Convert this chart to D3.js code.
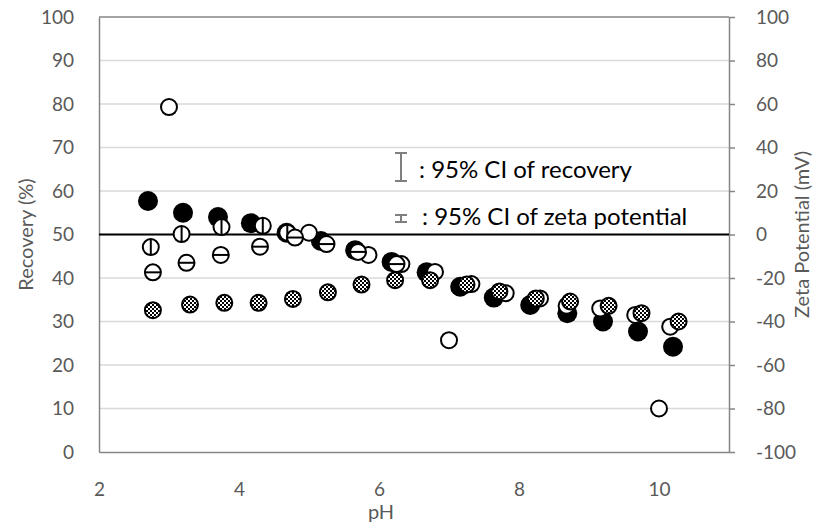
<!DOCTYPE html>
<html>
<head>
<meta charset="utf-8">
<script src="https://cdn.jsdelivr.net/npm/d3@7"></script>
<style>
  body { margin: 0; background: #fff; }
  svg text { font-family: Lato, "Open Sans", sans-serif; }
</style>
</head>
<body>
<div id="chart"></div>
<script>
// recovery (left axis), filled markers
const recPH = [2.70, 3.20, 3.70, 4.17, 4.68, 5.17, 5.66, 6.18, 6.68, 7.16, 7.64, 8.16, 8.69, 9.20, 9.70, 10.20];
const recovery = [57.7, 55.0, 54.0, 52.6, 50.4, 48.5, 46.4, 43.7, 41.3, 38.0, 35.5, 33.8, 31.9, 30.0, 27.7, 24.2];

// zeta potential series (right axis)
const openPH = [3.00, 5.00, 5.85, 6.32, 6.80, 7.00, 7.32, 7.81, 8.30, 8.68, 9.16, 9.66, 10.00, 10.16];
const openZeta = [58.6, 0.8, -9.4, -13.6, -17.2, -48.6, -22.8, -27.0, -29.4, -32.8, -34.0, -37.0, -80.0, -42.4];

const vertPH = [2.74, 3.18, 3.75, 4.34, 4.69];
const vertZeta = [-5.8, 0.2, 3.4, 4.0, 0.8];

const horizPH = [2.77, 3.25, 3.74, 4.30, 4.80, 5.25, 5.70, 6.25];
const horizZeta = [-17.4, -13.0, -9.4, -5.6, -1.4, -4.4, -8.0, -13.6];

const checkPH = [2.77, 3.30, 3.79, 4.28, 4.77, 5.27, 5.75, 6.23, 6.73, 7.25, 7.72, 8.24, 8.73, 9.28, 9.75, 10.28];
const checkZeta = [-34.8, -32.2, -31.4, -31.4, -29.6, -26.6, -23.0, -21.0, -21.0, -23.0, -26.2, -29.4, -30.8, -32.8, -36.2, -40.0];

const phTicks = [2, 4, 6, 8, 10];
const recTicks = [0, 10, 20, 30, 40, 50, 60, 70, 80, 90, 100];
const zetaTicks = [-100, -80, -60, -40, -20, 0, 20, 40, 60, 80, 100];

const W = 826, H = 525;
const plotL = 99, plotR = 729, plotT = 17, plotB = 452;
const axisGray = "#868686", textGray = "#595959";

const svg = d3.select("#chart").append("svg")
  .attr("width", W)
  .attr("height", H);

const x = d3.scaleLinear().domain([2, 11]).range([plotL, plotR]);
const yL = d3.scaleLinear().domain([0, 100]).range([plotB, plotT]);
const yR = d3.scaleLinear().domain([-100, 100]).range([plotB, plotT]);

// checker pattern for one of the zeta series
const defs = svg.append("defs");
const pat = defs.append("pattern")
  .attr("id", "checker")
  .attr("patternUnits", "userSpaceOnUse")
  .attr("width", 4).attr("height", 4);
pat.append("rect").attr("width", 4).attr("height", 4).attr("fill", "#fff");
pat.append("rect").attr("width", 2).attr("height", 2).attr("fill", "#000");
pat.append("rect").attr("x", 2).attr("y", 2).attr("width", 2).attr("height", 2).attr("fill", "#000");

// gridlines
svg.append("g").selectAll("line")
  .data(recTicks.filter(d => d > 0 && d < 100))
  .join("line")
  .attr("x1", plotL).attr("x2", plotR)
  .attr("y1", d => yL(d)).attr("y2", d => yL(d))
  .attr("stroke", "#d9d9d9").attr("stroke-width", 1.5);

svg.append("line")
  .attr("x1", plotL).attr("x2", plotR)
  .attr("y1", yL(100)).attr("y2", yL(100))
  .attr("stroke", axisGray).attr("stroke-width", 1.5);

// axes (plain hyphen for negatives, like the original)
const fmt = d => String(d);

const gL = svg.append("g")
  .attr("transform", "translate(" + plotL + ",0)")
  .call(d3.axisLeft(yL).tickValues(recTicks).tickFormat(fmt).tickSize(0).tickPadding(25));

const gR = svg.append("g")
  .attr("transform", "translate(" + plotR + ",0)")
  .call(d3.axisRight(yR).tickValues(zetaTicks).tickFormat(fmt).tickSizeInner(6).tickSizeOuter(0).tickPadding(21));

const gB = svg.append("g")
  .attr("transform", "translate(0," + plotB + ")")
  .call(d3.axisBottom(x).tickValues(phTicks).tickFormat(fmt).tickSize(0).tickPadding(31));

[gL, gR, gB].forEach(g => {
  g.select(".domain").attr("stroke", axisGray).attr("stroke-width", 1.5);
  g.selectAll(".tick line").attr("stroke", axisGray).attr("stroke-width", 1.5);
  g.selectAll(".tick text").attr("fill", textGray).style("font-size", "19px");
});

// zero zeta line
svg.append("line")
  .attr("x1", plotL).attr("x2", plotR)
  .attr("y1", yR(0)).attr("y2", yR(0))
  .attr("stroke", "#000").attr("stroke-width", 2);

// axis titles
svg.append("text")
  .attr("transform", "translate(33," + ((plotT + plotB) / 2) + ")rotate(-90)")
  .attr("text-anchor", "middle")
  .attr("fill", textGray)
  .style("font-size", "20px")
  .text("Recovery (%)");

svg.append("text")
  .attr("transform", "translate(809," + ((plotT + plotB) / 2) + ")rotate(-90)")
  .attr("text-anchor", "middle")
  .attr("fill", textGray)
  .style("font-size", "20px")
  .text("Zeta Potential (mV)");

svg.append("text")
  .attr("x", 381).attr("y", 519)
  .attr("text-anchor", "middle")
  .attr("fill", textGray)
  .style("font-size", "20px")
  .text("pH");

// markers
const R = 8;

svg.append("g").selectAll("circle")
  .data(recPH.map((p, i) => [p, recovery[i]]))
  .join("circle")
  .attr("cx", d => x(d[0])).attr("cy", d => yL(d[1]))
  .attr("r", 10).attr("fill", "#000");

svg.append("g").selectAll("circle")
  .data(openPH.map((p, i) => [p, openZeta[i]]))
  .join("circle")
  .attr("cx", d => x(d[0])).attr("cy", d => yR(d[1]))
  .attr("r", R).attr("fill", "#fff").attr("stroke", "#000").attr("stroke-width", 2);

const vG = svg.append("g").selectAll("g")
  .data(vertPH.map((p, i) => [p, vertZeta[i]]))
  .join("g")
  .attr("transform", d => "translate(" + x(d[0]) + "," + yR(d[1]) + ")");
vG.append("circle").attr("r", R).attr("fill", "#fff").attr("stroke", "#000").attr("stroke-width", 2);
vG.append("line").attr("y1", -R).attr("y2", R).attr("stroke", "#000").attr("stroke-width", 2);

const hG = svg.append("g").selectAll("g")
  .data(horizPH.map((p, i) => [p, horizZeta[i]]))
  .join("g")
  .attr("transform", d => "translate(" + x(d[0]) + "," + yR(d[1]) + ")");
hG.append("circle").attr("r", R).attr("fill", "#fff").attr("stroke", "#000").attr("stroke-width", 2);
hG.append("line").attr("x1", -R).attr("x2", R).attr("stroke", "#000").attr("stroke-width", 2);

svg.append("g").selectAll("circle")
  .data(checkPH.map((p, i) => [p, checkZeta[i]]))
  .join("circle")
  .attr("cx", d => x(d[0])).attr("cy", d => yR(d[1]))
  .attr("r", R).attr("fill", "url(#checker)").attr("stroke", "#000").attr("stroke-width", 2);

// legend (error bar keys)
const lg = svg.append("g").attr("stroke", "#7f7f7f").attr("stroke-width", 2);
lg.append("line").attr("x1", 401).attr("x2", 401).attr("y1", 153).attr("y2", 181);
lg.append("line").attr("x1", 395).attr("x2", 407).attr("y1", 153).attr("y2", 153);
lg.append("line").attr("x1", 395).attr("x2", 407).attr("y1", 181).attr("y2", 181);
lg.append("line").attr("x1", 401).attr("x2", 401).attr("y1", 215).attr("y2", 222);
lg.append("line").attr("x1", 395).attr("x2", 407).attr("y1", 215).attr("y2", 215);
lg.append("line").attr("x1", 395).attr("x2", 407).attr("y1", 222).attr("y2", 222);

svg.append("text")
  .attr("x", 419).attr("y", 178)
  .style("font-size", "24px")
  .attr("fill", "#000")
  .text(": 95% CI of recovery");

svg.append("text")
  .attr("x", 422).attr("y", 225)
  .style("font-size", "24px")
  .attr("fill", "#000")
  .text(": 95% CI of zeta potential");
</script>
</body>
</html>
